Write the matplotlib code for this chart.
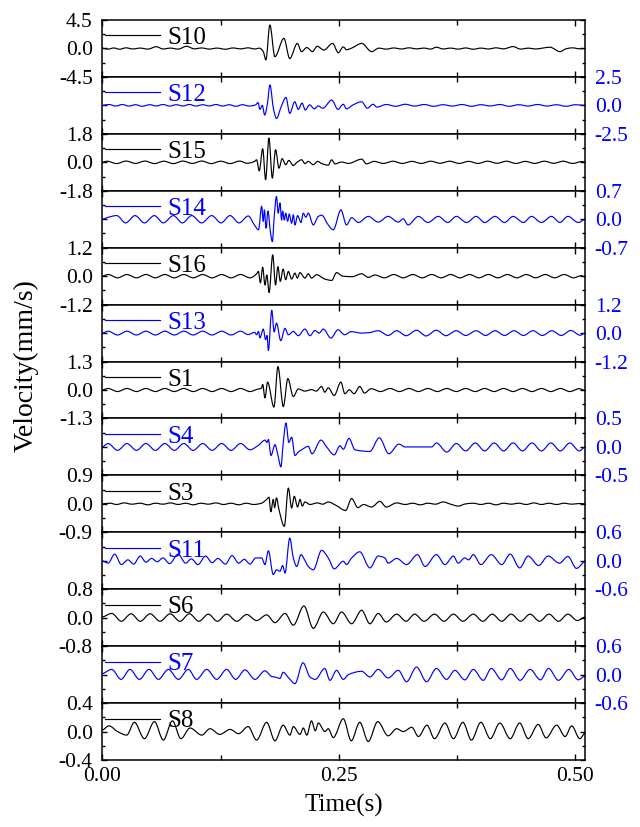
import matplotlib
matplotlib.use("Agg")
import numpy as np
import matplotlib.pyplot as plt
from matplotlib.ticker import FixedLocator, FormatStrFormatter
from matplotlib.path import Path
from matplotlib.patches import PathPatch
from matplotlib.lines import Line2D

plt.rcParams['font.family'] = ['Liberation Serif', 'DejaVu Serif']
plt.rcParams['axes.unicode_minus'] = False

# ---------------- data ----------------
stations = ["S10", "S12", "S15", "S14", "S16", "S13", "S1", "S4", "S3", "S11", "S6", "S7", "S8"]
y_limits = [4.5, 2.5, 1.8, 0.7, 1.2, 1.2, 1.3, 0.5, 0.9, 0.6, 0.8, 0.6, 0.4]
trace_colors = ["#000000", "#0000FF", "#000000", "#0000FF", "#000000", "#0000FF", "#000000",
                "#0000FF", "#000000", "#0000FF", "#000000", "#0000FF", "#000000"]
x_ticks = [0.0, 0.25, 0.5]
x_minor_ticks = [0.125, 0.375]
x_tick_labels = ["0.00", "0.25", "0.50"]
x_label = "Time(s)"
y_label = "Velocity(mm/s)"

# (time s, velocity mm/s)
S10 = [(0.000, 0.05), (0.006, -0.10), (0.012, 0.08), (0.018, -0.12), (0.025, 0.10), (0.032, -0.08),
       (0.040, 0.06), (0.048, -0.10), (0.057, 0.28), (0.064, -0.08), (0.072, 0.06), (0.080, -0.10),
       (0.089, 0.35), (0.097, -0.06), (0.105, 0.08), (0.113, -0.10), (0.121, 0.06), (0.130, -0.12),
       (0.138, 0.08), (0.146, -0.06), (0.154, 0.10), (0.161, -0.08), (0.166, 0.05), (0.170, -0.50),
       (0.1728, -1.80), (0.1770, 3.70), (0.1823, -1.30), (0.1918, 1.60), (0.1980, -1.60),
       (0.2060, 0.80), (0.2104, -0.50), (0.2160, 0.15), (0.2220, -0.50), (0.2270, 0.35),
       (0.2340, -0.25), (0.2433, 0.80), (0.2493, -0.67), (0.2546, 0.25), (0.2580, -0.20),
       (0.2640, 0.10), (0.2740, 0.80), (0.2846, -0.50), (0.2920, 0.05), (0.3000, -0.10),
       (0.3080, 0.08), (0.3160, -0.08), (0.3240, 0.10), (0.3320, -0.06), (0.3400, 0.06),
       (0.3470, -0.10), (0.3530, 0.20), (0.3600, -0.08), (0.3680, 0.06), (0.3760, -0.10),
       (0.3840, 0.08), (0.3920, -0.12), (0.4000, 0.06), (0.4080, -0.08), (0.4160, 0.10),
       (0.4240, -0.06), (0.4340, 0.30), (0.4420, -0.10), (0.4500, 0.05), (0.4580, -0.08),
       (0.4660, 0.08), (0.4730, 0.20), (0.4836, -0.50), (0.4900, -0.05), (0.4970, 0.10),
       (0.5040, -0.05), (0.5100, 0.00)]

S12 = [(0.000, 0.00), (0.007, 0.08), (0.014, -0.06), (0.021, 0.08), (0.028, -0.06), (0.035, 0.06),
       (0.042, -0.08), (0.050, 0.06), (0.057, -0.05), (0.064, 0.08), (0.071, -0.06), (0.078, 0.06),
       (0.085, -0.05), (0.092, 0.08), (0.099, -0.06), (0.106, 0.06), (0.113, -0.05), (0.120, 0.08),
       (0.127, -0.06), (0.134, 0.06), (0.141, -0.08), (0.148, 0.06), (0.155, -0.06), (0.162, 0.05),
       (0.1645, 0.25), (0.1665, -0.35), (0.1690, 0.00), (0.1715, -0.85), (0.1745, 0.20),
       (0.1770, 1.80), (0.1810, -0.40), (0.1840, -1.15), (0.1890, -0.10), (0.1940, 0.70),
       (0.1980, -0.70), (0.2033, 0.32), (0.2070, -0.35), (0.2110, 0.20), (0.2145, -0.41),
       (0.2190, 0.05), (0.2240, -0.30), (0.2280, -0.05), (0.2330, -0.25), (0.2423, 0.47),
       (0.2490, -0.35), (0.2545, 0.10), (0.2580, -0.30), (0.2650, 0.05), (0.2740, 0.32),
       (0.2800, -0.25), (0.2860, 0.10), (0.2900, -0.15), (0.3000, 0.08), (0.3100, -0.08),
       (0.3200, 0.10), (0.3300, -0.06), (0.3400, 0.08), (0.3500, -0.08), (0.3600, 0.06),
       (0.3700, -0.06), (0.3800, 0.08), (0.3900, -0.08), (0.4000, 0.06), (0.4100, -0.05),
       (0.4200, 0.08), (0.4300, -0.08), (0.4400, 0.06), (0.4500, -0.06), (0.4600, 0.08),
       (0.4700, -0.06), (0.4800, 0.06), (0.4900, -0.08), (0.5000, 0.06), (0.5100, 0.00)]

S15 = [(0.000, 0.00), (0.005, 0.07), (0.015, -0.08), (0.025, 0.08), (0.035, -0.07), (0.045, 0.08),
       (0.055, -0.08), (0.065, 0.07), (0.075, -0.08), (0.085, 0.08), (0.095, -0.07), (0.105, 0.08),
       (0.115, -0.08), (0.125, 0.07), (0.135, -0.08), (0.145, 0.08), (0.153, -0.06), (0.1606, 0.05),
       (0.1630, 0.16), (0.1658, -0.54), (0.1694, 0.86), (0.1725, -1.10), (0.1760, 1.53),
       (0.1796, -1.00), (0.1830, 0.80), (0.1866, -0.37), (0.1900, 0.23), (0.1937, -0.15),
       (0.1970, 0.12), (0.2018, -0.20), (0.2056, 0.00), (0.2106, 0.16), (0.2140, -0.08),
       (0.2176, 0.06), (0.2229, -0.15), (0.2275, 0.06), (0.2317, -0.08), (0.2387, -0.18),
       (0.2422, 0.16), (0.2458, -0.10), (0.2528, 0.02), (0.2600, -0.07), (0.2740, 0.20),
       (0.2792, -0.10), (0.2870, 0.06), (0.2970, -0.07), (0.3070, 0.07), (0.3170, -0.07),
       (0.3270, 0.06), (0.3370, -0.07), (0.3470, 0.07), (0.3570, -0.06), (0.3670, 0.07),
       (0.3770, -0.07), (0.3870, 0.06), (0.3970, -0.07), (0.4070, 0.07), (0.4170, -0.06),
       (0.4270, 0.07), (0.4370, -0.07), (0.4470, 0.06), (0.4570, -0.07), (0.4670, 0.07),
       (0.4770, -0.06), (0.4870, 0.07), (0.4970, -0.07), (0.5070, 0.05), (0.5100, 0.00)]

S14 = [(0.000, 0.00), (0.0050, 0.04), (0.0151, 0.09), (0.0246, -0.09), (0.0345, 0.09), (0.0444, -0.09),
       (0.0549, 0.09), (0.0644, -0.09), (0.0750, 0.09), (0.0845, -0.09), (0.0944, 0.09),
       (0.1049, -0.09), (0.1155, 0.09), (0.1254, -0.09), (0.1349, 0.09), (0.1444, -0.09),
       (0.1542, 0.08), (0.1606, -0.14), (0.1650, -0.26), (0.1683, 0.32), (0.1700, -0.05),
       (0.1712, 0.23), (0.1730, -0.22), (0.1750, 0.20), (0.1775, -0.30), (0.1796, -0.55),
       (0.1817, 0.10), (0.1840, 0.56), (0.1858, 0.15), (0.1877, 0.40), (0.1894, -0.02),
       (0.1905, 0.20), (0.1923, -0.02), (0.1937, 0.15), (0.1958, -0.05), (0.1975, 0.13),
       (0.2000, -0.10), (0.2018, 0.11), (0.2035, -0.14), (0.2063, 0.09), (0.2099, -0.08),
       (0.2123, 0.15), (0.2150, 0.05), (0.2176, 0.15), (0.2229, -0.14), (0.2282, 0.07),
       (0.2317, 0.10), (0.2387, -0.14), (0.2440, -0.26), (0.2521, 0.23), (0.2580, -0.14),
       (0.2634, 0.04), (0.2705, -0.08), (0.2810, 0.07), (0.2915, -0.07), (0.3020, 0.07),
       (0.3127, -0.07), (0.3180, 0.01), (0.3230, -0.14), (0.3340, 0.07), (0.3440, -0.08),
       (0.3550, 0.07), (0.3650, -0.08), (0.3740, 0.07), (0.3850, -0.08), (0.3950, 0.07),
       (0.4040, -0.08), (0.4150, 0.07), (0.4250, -0.08), (0.4340, 0.07), (0.4450, -0.08),
       (0.4535, 0.07), (0.4640, -0.08), (0.4746, 0.07), (0.4835, -0.08), (0.4920, 0.07),
       (0.5030, -0.08), (0.5100, 0.00)]

S16 = [(0.000, 0.00), (0.006, 0.07), (0.016, -0.07), (0.026, 0.07), (0.036, -0.07), (0.046, 0.07),
       (0.056, -0.07), (0.066, 0.07), (0.076, -0.07), (0.086, 0.07), (0.096, -0.07), (0.106, 0.07),
       (0.116, -0.07), (0.126, 0.07), (0.136, -0.07), (0.146, 0.07), (0.156, -0.07), (0.1630, 0.10),
       (0.1648, 0.20), (0.1670, -0.28), (0.1694, 0.38), (0.1718, -0.37), (0.1738, 0.05),
       (0.1762, -0.69), (0.1800, 0.90), (0.1830, -0.37), (0.1855, 0.40), (0.1880, -0.22),
       (0.1910, 0.30), (0.1937, -0.15), (0.1965, 0.20), (0.2000, -0.12), (0.2035, 0.13),
       (0.2060, -0.08), (0.2088, 0.15), (0.2140, -0.08), (0.2176, 0.10), (0.2210, -0.08),
       (0.2264, 0.06), (0.2350, -0.12), (0.2423, -0.18), (0.2475, 0.15), (0.2540, 0.00),
       (0.2640, -0.02), (0.2740, 0.10), (0.2810, -0.05), (0.2880, 0.05), (0.2980, -0.07),
       (0.3080, 0.07), (0.3180, -0.07), (0.3280, 0.07), (0.3380, -0.07), (0.3480, 0.07),
       (0.3580, -0.07), (0.3680, 0.07), (0.3780, -0.07), (0.3880, 0.07), (0.3980, -0.07),
       (0.4080, 0.07), (0.4180, -0.07), (0.4280, 0.07), (0.4380, -0.07), (0.4480, 0.07),
       (0.4580, -0.07), (0.4680, 0.07), (0.4780, -0.07), (0.4880, 0.07), (0.4980, -0.07),
       (0.5060, 0.02), (0.5100, -0.03)]

S13 = [(0.000, 0.00), (0.006, 0.08), (0.016, -0.08), (0.026, 0.08), (0.036, -0.08), (0.046, 0.08),
       (0.056, -0.08), (0.066, 0.08), (0.076, -0.08), (0.086, 0.08), (0.096, -0.08), (0.106, 0.08),
       (0.116, -0.08), (0.126, 0.08), (0.136, -0.08), (0.146, 0.08), (0.154, -0.06), (0.1610, 0.03),
       (0.1630, -0.07), (0.1650, 0.07), (0.1665, -0.20), (0.1700, 0.17), (0.1725, -0.28),
       (0.1740, -0.10), (0.1754, -0.73), (0.1790, 0.96), (0.1815, 0.05), (0.1840, 0.42),
       (0.1885, -0.32), (0.1930, 0.20), (0.1965, -0.07), (0.2018, 0.07), (0.2070, -0.11),
       (0.2140, 0.17), (0.2194, -0.11), (0.2246, 0.11), (0.2290, 0.00), (0.2335, 0.17),
       (0.2415, -0.21), (0.2490, 0.14), (0.2560, -0.07), (0.2630, 0.06), (0.2740, 0.00),
       (0.2820, 0.02), (0.2915, 0.10), (0.3020, -0.10), (0.3110, 0.10), (0.3210, -0.11),
       (0.3320, 0.12), (0.3420, -0.12), (0.3530, 0.12), (0.3630, -0.11), (0.3740, 0.10),
       (0.3840, -0.10), (0.3950, 0.10), (0.4050, -0.10), (0.4150, 0.10), (0.4250, -0.10),
       (0.4350, 0.10), (0.4450, -0.10), (0.4550, 0.10), (0.4650, -0.10), (0.4750, 0.10),
       (0.4850, -0.10), (0.4950, 0.11), (0.5050, -0.09), (0.5100, 0.00)]

S1 = [(0.000, 0.00), (0.006, 0.07), (0.016, -0.07), (0.026, 0.07), (0.036, -0.07), (0.046, 0.07),
      (0.056, -0.07), (0.066, 0.07), (0.076, -0.07), (0.086, 0.07), (0.096, -0.07), (0.106, 0.07),
      (0.116, -0.07), (0.126, 0.07), (0.136, -0.07), (0.146, 0.07), (0.156, -0.07), (0.1640, 0.04),
      (0.1680, 0.08), (0.1694, 0.25), (0.1718, -0.36), (0.1746, 0.36), (0.1813, -0.78),
      (0.1855, 1.07), (0.1912, -0.76), (0.1960, 0.52), (0.2018, -0.30), (0.2070, 0.05),
      (0.2140, -0.05), (0.2210, 0.02), (0.2260, -0.05), (0.2317, 0.16), (0.2350, -0.10),
      (0.2387, 0.10), (0.2450, -0.25), (0.2520, 0.36), (0.2563, -0.17), (0.2610, 0.01),
      (0.2660, -0.17), (0.2720, 0.16), (0.2770, -0.14), (0.2840, 0.06), (0.2940, -0.07),
      (0.3040, 0.07), (0.3140, -0.07), (0.3240, 0.07), (0.3340, -0.07), (0.3440, 0.07),
      (0.3540, -0.07), (0.3640, 0.07), (0.3740, -0.07), (0.3840, 0.07), (0.3940, -0.07),
      (0.4040, 0.07), (0.4140, -0.07), (0.4240, 0.07), (0.4340, -0.07), (0.4440, 0.07),
      (0.4540, -0.07), (0.4640, 0.07), (0.4740, -0.07), (0.4840, 0.07), (0.4940, -0.07),
      (0.5040, 0.06), (0.5100, -0.02)]

S4 = [(0.000, 0.00), (0.006, 0.06), (0.016, -0.06), (0.026, 0.06), (0.036, -0.06), (0.046, 0.06),
      (0.056, -0.06), (0.066, 0.06), (0.076, -0.06), (0.086, 0.06), (0.096, -0.06), (0.106, 0.06),
      (0.116, -0.06), (0.126, 0.06), (0.136, -0.06), (0.146, 0.06), (0.156, -0.05), (0.1650, 0.03),
      (0.1718, 0.12), (0.1740, 0.08), (0.1754, 0.13), (0.1782, -0.15), (0.1824, 0.04),
      (0.1852, -0.12), (0.1887, -0.35), (0.1910, 0.05), (0.1940, 0.42), (0.1970, 0.08),
      (0.2000, 0.17), (0.2035, -0.15), (0.2070, -0.09), (0.2106, -0.05), (0.2176, 0.01),
      (0.2215, -0.12), (0.2310, 0.12), (0.2370, 0.00), (0.2450, -0.14), (0.2510, 0.02),
      (0.2546, -0.04), (0.2606, 0.15), (0.2670, -0.05), (0.2827, -0.08), (0.2926, 0.16),
      (0.3028, -0.12), (0.3134, 0.05), (0.3200, 0.00), (0.3350, 0.00), (0.3480, 0.00),
      (0.3530, 0.07), (0.3640, -0.09), (0.3740, 0.06), (0.3840, -0.07), (0.3940, 0.07),
      (0.4040, -0.07), (0.4140, 0.07), (0.4240, -0.07), (0.4340, 0.07), (0.4440, -0.07),
      (0.4540, 0.07), (0.4640, -0.07), (0.4740, 0.07), (0.4840, -0.07), (0.4940, 0.07),
      (0.5040, -0.07), (0.5100, 0.00)]

S3 = [(0.000, 0.00), (0.008, 0.02), (0.015, -0.02), (0.023, 0.03), (0.031, -0.01), (0.040, 0.02),
      (0.048, -0.03), (0.056, 0.02), (0.064, -0.01), (0.072, 0.03), (0.080, -0.02), (0.088, 0.02),
      (0.096, -0.03), (0.104, 0.02), (0.112, -0.01), (0.120, 0.03), (0.128, -0.02), (0.136, 0.02),
      (0.144, -0.03), (0.152, 0.02), (0.160, -0.02), (0.168, 0.02), (0.1736, 0.14), (0.1760, 0.21),
      (0.1780, -0.25), (0.1806, 0.14), (0.1820, -0.12), (0.1840, 0.19), (0.1866, -0.18),
      (0.1923, -0.71), (0.1965, 0.50), (0.2000, -0.13), (0.2028, 0.24), (0.2063, -0.10),
      (0.2088, 0.14), (0.2113, -0.07), (0.2140, 0.06), (0.2194, -0.02), (0.2270, 0.03),
      (0.2330, -0.01), (0.2387, 0.06), (0.2470, -0.05), (0.2570, -0.21), (0.2634, 0.17),
      (0.2700, -0.12), (0.2760, -0.02), (0.2845, -0.10), (0.2933, 0.08), (0.3000, -0.10),
      (0.3110, 0.03), (0.3200, -0.02), (0.3280, 0.02), (0.3360, -0.03), (0.3440, 0.02),
      (0.3520, -0.01), (0.3600, 0.06), (0.3680, -0.01), (0.3760, -0.07), (0.3840, 0.00),
      (0.3920, 0.02), (0.4000, -0.02), (0.4080, 0.02), (0.4160, -0.03), (0.4240, 0.02),
      (0.4320, -0.01), (0.4400, 0.02), (0.4480, -0.02), (0.4560, 0.03), (0.4640, -0.02),
      (0.4720, 0.02), (0.4800, -0.02), (0.4880, 0.02), (0.4960, -0.01), (0.5040, 0.01),
      (0.5100, 0.00)]

S11 = [(0.000, 0.00), (0.006, -0.05), (0.013, 0.14), (0.020, -0.08), (0.027, 0.02), (0.033, -0.07),
       (0.040, 0.10), (0.046, -0.03), (0.052, 0.05), (0.058, -0.02), (0.064, 0.06), (0.071, -0.06),
       (0.080, 0.14), (0.088, -0.05), (0.094, 0.04), (0.101, -0.08), (0.109, 0.10), (0.116, -0.04),
       (0.122, 0.05), (0.130, -0.07), (0.137, 0.11), (0.144, -0.05), (0.150, 0.03), (0.156, -0.07),
       (0.162, 0.06), (0.1683, 0.06), (0.1718, -0.08), (0.1754, 0.21), (0.1806, -0.29),
       (0.1840, -0.19), (0.1877, -0.22), (0.1905, -0.10), (0.1930, -0.26), (0.1980, 0.48),
       (0.2018, 0.06), (0.2053, -0.12), (0.2100, 0.13), (0.2134, 0.03), (0.2176, -0.12),
       (0.2229, -0.19), (0.2317, 0.22), (0.2387, 0.06), (0.2450, -0.17), (0.2546, -0.01),
       (0.2580, -0.08), (0.2630, 0.05), (0.2720, 0.19), (0.2827, -0.15), (0.2915, 0.10),
       (0.2985, 0.06), (0.3020, -0.05), (0.3110, 0.05), (0.3215, -0.08), (0.3330, 0.13),
       (0.3410, -0.12), (0.3530, 0.13), (0.3620, -0.08), (0.3710, 0.10), (0.3760, -0.05),
       (0.3830, 0.06), (0.3870, 0.02), (0.3920, 0.13), (0.4000, -0.08), (0.4110, 0.13),
       (0.4220, -0.08), (0.4310, 0.14), (0.4410, -0.15), (0.4500, 0.10), (0.4610, -0.10),
       (0.4710, 0.10), (0.4830, -0.05), (0.4920, 0.09), (0.5010, -0.16), (0.5100, -0.01)]

S6 = [(0.000, 0.02), (0.0099, 0.12), (0.0200, -0.10), (0.0303, 0.11), (0.0400, -0.10), (0.0504, 0.11),
      (0.0610, -0.10), (0.0715, 0.11), (0.0820, -0.10), (0.0919, 0.11), (0.1020, -0.10),
      (0.1120, 0.10), (0.1215, -0.10), (0.1313, 0.10), (0.1420, -0.10), (0.1525, 0.09),
      (0.1630, -0.08), (0.1736, 0.08), (0.1824, -0.14), (0.1930, 0.12), (0.2018, -0.21),
      (0.2130, 0.33), (0.2229, -0.30), (0.2335, 0.16), (0.2440, -0.17), (0.2528, 0.16),
      (0.2634, -0.17), (0.2740, 0.21), (0.2827, -0.17), (0.2915, 0.12), (0.3000, -0.12),
      (0.3110, 0.10), (0.3210, -0.10), (0.3300, 0.10), (0.3400, -0.10), (0.3510, 0.10),
      (0.3610, -0.10), (0.3710, 0.10), (0.3810, -0.10), (0.3920, 0.10), (0.4020, -0.10),
      (0.4120, 0.10), (0.4220, -0.10), (0.4320, 0.10), (0.4420, -0.10), (0.4520, 0.10),
      (0.4620, -0.10), (0.4720, 0.10), (0.4820, -0.10), (0.4920, 0.10), (0.5020, -0.08),
      (0.5100, 0.02)]

S7 = [(0.000, 0.02), (0.0099, 0.11), (0.0197, -0.10), (0.0292, 0.11), (0.0391, -0.10), (0.0493, 0.11),
      (0.0592, -0.10), (0.0697, 0.11), (0.0803, -0.10), (0.0908, 0.11), (0.0996, -0.10),
      (0.1102, 0.11), (0.1208, -0.10), (0.1313, 0.11), (0.1408, -0.10), (0.1507, 0.10),
      (0.1613, -0.10), (0.1718, 0.08), (0.1790, -0.04), (0.1824, -0.05), (0.1877, -0.08),
      (0.1910, 0.05), (0.1965, -0.06), (0.2035, -0.19), (0.2120, 0.25), (0.2194, -0.05),
      (0.2250, -0.10), (0.2350, 0.13), (0.2405, -0.12), (0.2475, 0.09), (0.2546, -0.10),
      (0.2600, 0.00), (0.2740, 0.07), (0.2827, -0.05), (0.2915, 0.11), (0.3020, -0.07),
      (0.3127, 0.09), (0.3215, -0.15), (0.3320, 0.16), (0.3426, -0.15), (0.3530, 0.13),
      (0.3637, -0.10), (0.3725, 0.09), (0.3830, -0.11), (0.3920, 0.11), (0.4025, -0.12),
      (0.4110, 0.13), (0.4220, -0.11), (0.4310, 0.13), (0.4415, -0.12), (0.4520, 0.11),
      (0.4630, -0.11), (0.4715, 0.13), (0.4820, -0.12), (0.4930, 0.11), (0.5028, -0.11),
      (0.5100, -0.03)]

S8 = [(0.000, 0.02), (0.0070, 0.08), (0.0160, 0.00), (0.0257, -0.05), (0.0338, 0.13), (0.0444, -0.10),
      (0.0550, 0.14), (0.0644, -0.12), (0.0740, 0.15), (0.0830, -0.10), (0.0926, 0.05),
      (0.1050, -0.05), (0.1137, 0.04), (0.1240, -0.04), (0.1350, 0.03), (0.1440, -0.03),
      (0.1540, 0.07), (0.1630, -0.12), (0.1736, 0.13), (0.1824, -0.13), (0.1910, 0.09),
      (0.1982, -0.05), (0.2018, 0.07), (0.2088, -0.04), (0.2123, 0.05), (0.2160, -0.05),
      (0.2210, 0.15), (0.2250, 0.01), (0.2282, 0.12), (0.2352, 0.00), (0.2387, 0.04),
      (0.2440, -0.085), (0.2546, 0.18), (0.2630, -0.13), (0.2720, 0.13), (0.2810, -0.14),
      (0.2910, 0.14), (0.3020, -0.06), (0.3110, 0.04), (0.3180, 0.00), (0.3270, 0.06),
      (0.3340, -0.07), (0.3430, 0.09), (0.3510, -0.10), (0.3620, 0.12), (0.3710, -0.10),
      (0.3810, 0.13), (0.3900, -0.12), (0.4000, 0.13), (0.4100, -0.10), (0.4200, 0.12),
      (0.4310, -0.10), (0.4410, 0.12), (0.4500, -0.10), (0.4606, 0.10), (0.4690, -0.09),
      (0.4800, 0.09), (0.4890, -0.07), (0.4960, 0.08), (0.5045, -0.10), (0.5100, -0.02)]

traces = {"S10": S10, "S12": S12, "S15": S15, "S14": S14, "S16": S16, "S13": S13, "S1": S1,
          "S4": S4, "S3": S3, "S11": S11, "S6": S6, "S7": S7, "S8": S8}


def smooth_trace_path(t, v):
    """Path through the read points, joined by monotone cubic Bezier segments
    (a smoothed line style, drawn by the renderer; no extra data points)."""
    t = np.asarray(t, float)
    v = np.asarray(v, float)
    h = np.diff(t)
    d = np.diff(v) / h
    m = np.zeros_like(v)
    for k in range(1, len(v) - 1):
        if d[k - 1] * d[k] > 0:
            w1 = 2 * h[k] + h[k - 1]
            w2 = h[k] + 2 * h[k - 1]
            m[k] = (w1 + w2) / (w1 / d[k - 1] + w2 / d[k])
    m[0] = 0.5 * d[0]
    m[-1] = 0.5 * d[-1]
    verts = [(t[0], v[0])]
    codes = [Path.MOVETO]
    for k in range(len(v) - 1):
        verts.append((t[k] + h[k] / 3, v[k] + m[k] * h[k] / 3))
        verts.append((t[k + 1] - h[k] / 3, v[k + 1] - m[k + 1] * h[k] / 3))
        verts.append((t[k + 1], v[k + 1]))
        codes += [Path.CURVE4] * 3
    return Path(verts, codes)


# ---------------- figure ----------------
fig = plt.figure(figsize=(6.4, 8.27), dpi=100)
axes = fig.subplots(len(stations), 1)
fig.subplots_adjust(left=0.160, right=0.914, top=0.9758, bottom=0.0810, hspace=0)

n = len(stations)
for i, (ax, name) in enumerate(zip(axes, stations)):
    pts = traces[name]
    t = [p[0] for p in pts]
    v = [p[1] for p in pts]
    col = trace_colors[i]
    patch = PathPatch(smooth_trace_path(t, v), facecolor='none', edgecolor=col, lw=0.85,
                      joinstyle='round', capstyle='round', transform=ax.transData, zorder=2)
    ax.add_patch(patch)
    lim = y_limits[i]
    ax.set_ylim(-lim, lim)
    ax.set_xlim(0, 0.51)
    ax.yaxis.set_major_locator(FixedLocator([-lim, 0.0, lim]))
    ax.yaxis.set_minor_locator(FixedLocator([-lim / 2, lim / 2]))
    ax.yaxis.set_major_formatter(FormatStrFormatter('%.1f'))
    ax.set_xticks(x_ticks, labels=x_tick_labels)
    ax.xaxis.set_minor_locator(FixedLocator(x_minor_ticks))
    left_side = (i % 2 == 0)
    ax.tick_params(axis='both', which='both', direction='in', top=True, bottom=True,
                   left=True, right=True, width=1.0, colors='black')
    ax.tick_params(axis='x', which='major', length=4.5)
    ax.tick_params(axis='x', which='minor', length=3.5)
    ax.tick_params(axis='y', which='major', length=3.5)
    ax.tick_params(axis='y', which='minor', length=2.2)
    ax.tick_params(axis='y', which='major', labelsize=15.5, pad=7.0,
                   labelleft=left_side, labelright=not left_side, labelcolor=col)
    ax.tick_params(axis='x', which='major', labelbottom=(i == n - 1), labeltop=False,
                   labelsize=15.5, pad=5, labelcolor='black')
    for s in ax.spines.values():
        s.set_linewidth(1.1)
    handle = Line2D([], [], color=col, lw=0.85)
    ax.legend([handle], [name], loc='center left', bbox_to_anchor=(0.005, 0.685),
              frameon=False, fontsize=18, handlelength=2.2, handletextpad=0.3,
              borderpad=0, borderaxespad=0, labelcolor=col)

fig.text(0.041, 0.558, y_label, rotation=90, ha='center', va='center', fontsize=20)
fig.text(0.5375, 0.0266, x_label, ha='center', va='center', fontsize=18)

fig.savefig('out.png', dpi=100)
